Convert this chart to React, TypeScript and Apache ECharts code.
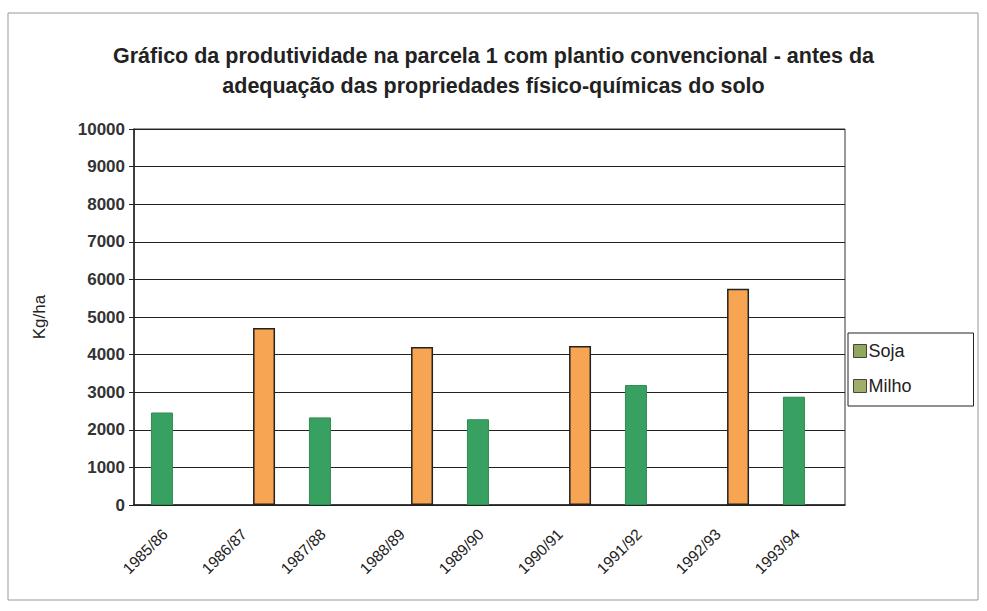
import React, { useEffect, useRef } from "react";
import * as echarts from "echarts";

const categories = ["1985/86", "1986/87", "1987/88", "1988/89", "1989/90", "1990/91", "1991/92", "1992/93", "1993/94"];
const soja = [2460, null, 2330, null, 2280, null, 3190, null, 2880];
const milho = [null, 4710, null, 4200, null, 4230, null, 5750, null];
const yTicks = { min: 0, max: 10000, interval: 1000 };
const titleText = "Gráfico da produtividade na parcela 1 com plantio convencional - antes da\nadequação das propriedades físico-químicas do solo";
const yName = "Kg/ha";

export default function App() {
  const ref = useRef<HTMLDivElement>(null);
  useEffect(() => {
    document.body.style.margin = "0";
    const chart = echarts.init(ref.current!, null, { renderer: "svg" });
    const font = "Liberation Sans, Arial, sans-serif";
    chart.setOption({
      animation: false,
      backgroundColor: "#ffffff",
      title: {
        text: titleText,
        left: "center",
        top: 36,
        textStyle: { fontFamily: font, fontSize: 21.5, fontWeight: "bold", color: "#222", lineHeight: 30 },
      },
      graphic: [
        {
          type: "rect",
          shape: { x: 8, y: 13, width: 970, height: 587 },
          style: { fill: "none", stroke: "#999", lineWidth: 1 },
          silent: true,
        },
      ],
      legend: {
        orient: "vertical",
        left: 848,
        top: 333,
        padding: [9, 62, 11, 5],
        itemGap: 17,
        itemWidth: 13,
        itemHeight: 13,
        borderColor: "#222",
        borderWidth: 1,
        textStyle: { fontFamily: font, fontSize: 18, color: "#222", padding: [0, 0, 0, -3] },
        data: [
          { name: "Soja", icon: "rect", itemStyle: { color: "#8fa85e", borderColor: "#444", borderWidth: 1 } },
          { name: "Milho", icon: "rect", itemStyle: { color: "#a0ae6c", borderColor: "#444", borderWidth: 1 } },
        ],
      },
      grid: {
        left: 134,
        right: 142,
        top: 129,
        bottom: 106,
        show: true,
        borderColor: "#333",
        borderWidth: 1,
      },
      xAxis: {
        type: "category",
        data: categories,
        axisLine: { lineStyle: { color: "#222", width: 1.5 } },
        axisTick: { show: false },
        axisLabel: {
          rotate: 45,
          margin: 18,
          padding: [0, 12, 0, 0],
          fontFamily: font,
          fontSize: 15.5,
          color: "#222",
          interval: 0,
        },
      },
      yAxis: {
        type: "value",
        min: yTicks.min,
        max: yTicks.max,
        interval: yTicks.interval,
        name: yName,
        nameLocation: "middle",
        nameGap: 86,
        nameTextStyle: { fontFamily: font, fontSize: 17, color: "#222" },
        axisLine: { show: true, lineStyle: { color: "#222", width: 1.5 } },
        axisTick: { show: true, length: 5, lineStyle: { color: "#222" } },
        axisLabel: {
          fontFamily: font,
          fontSize: 17,
          fontWeight: "bold",
          color: "#333",
          margin: 9,
          formatter: (v: number) => String(v),
        },
        splitLine: { show: true, lineStyle: { color: "#222", width: 1 } },
      },
      series: [
        {
          name: "Soja",
          type: "bar",
          data: soja,
          barWidth: 22,
          barGap: "5%",
          itemStyle: { color: "#38a060", borderColor: "#2f8a52", borderWidth: 1 },
        },
        {
          name: "Milho",
          type: "bar",
          data: milho,
          barWidth: 22,
          barGap: "5%",
          itemStyle: { color: "#f8a553", borderColor: "#222", borderWidth: 1.5 },
        },
      ],
    });
    return () => chart.dispose();
  }, []);
  return <div ref={ref} style={{ width: 987, height: 611 }} />;
}
